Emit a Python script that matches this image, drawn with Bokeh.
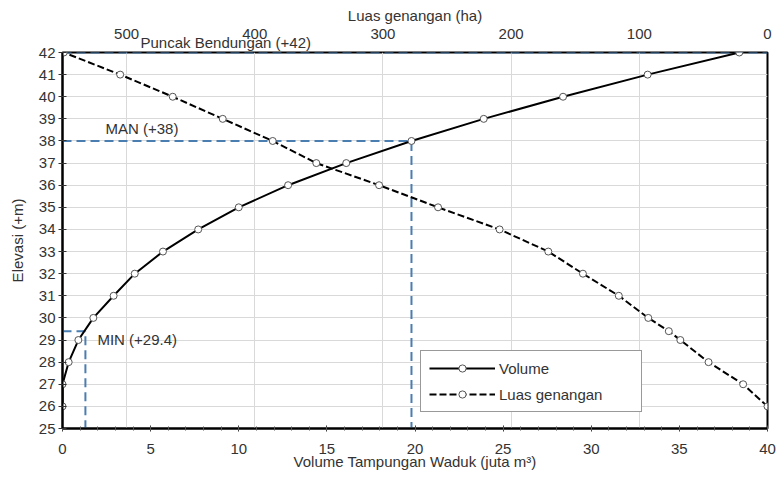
from bokeh.plotting import figure
from bokeh.models import Range1d, LinearAxis, FixedTicker, SingleIntervalTicker, Grid, Label, Title
from bokeh.embed import file_html
from bokeh.resources import INLINE

# ---- data ----
vol_elev = [26, 27, 28, 29, 30, 31, 32, 33, 34, 35, 36, 37, 38, 39, 40, 41, 42]
volume = [0.0, 0.0, 0.35, 0.9, 1.75, 2.9, 4.1, 5.7, 7.7, 10.0, 12.8, 16.1, 19.8, 23.9, 28.4, 33.2, 38.4]

area_elev = [26, 27, 28, 29, 29.4, 30, 31, 32, 33, 34, 35, 36, 37, 38, 39, 40, 41, 42]
area = [0, 19, 46, 68, 77, 93, 116, 144, 171, 209, 257, 303, 352, 386, 425, 464, 505, 549]

area_ticks = [0, 100, 200, 300, 400, 500]
puncak_elev = 42
man_elev, man_vol = 38, 19.8
min_elev, min_vol = 29.4, 1.3
elev_min, elev_max = 25, 42
vol_max = 40
area_max = 550

FONT = "Liberation Sans"
TXT = "#333333"
BLUE = "#4a7db0"

p = figure(width=783, height=477, x_range=Range1d(0, vol_max), y_range=Range1d(elev_min, elev_max),
           output_backend="svg", toolbar_location=None,
           min_border_left=62, min_border_right=16, min_border_top=52, min_border_bottom=49)
p.extra_x_ranges = {"area": Range1d(area_max, 0)}

bx = p.below[0]
ly = p.left[0]

# "Puncak Bendungan" text sits just above the top border (innermost item of the top panel)
puncak = Title(text="Puncak Bendungan (+42)", align="left", vertical_align="bottom", offset=78,
               standoff=4, text_font=FONT, text_font_size="15px", text_font_style="normal",
               text_color=TXT)
p.add_layout(puncak, "above")

top = LinearAxis(x_range_name="area", ticker=FixedTicker(ticks=area_ticks), axis_label="Luas genangan (ha)")
p.add_layout(top, "above")

bx.axis_label = "Volume Tampungan Waduk (juta m³)"
ly.axis_label = "Elevasi (+m)"
bx.ticker = SingleIntervalTicker(interval=5, num_minor_ticks=5)
ly.ticker = SingleIntervalTicker(interval=1, num_minor_ticks=0)

for ax in [bx, ly, top]:
    ax.axis_line_color = "black"
    ax.axis_line_width = 2
    ax.major_label_text_font = FONT
    ax.major_label_text_font_size = "15px"
    ax.major_label_text_color = TXT
    ax.axis_label_text_font = FONT
    ax.axis_label_text_font_size = "15px"
    ax.axis_label_text_font_style = "normal"
    ax.axis_label_text_color = TXT
    ax.major_tick_line_color = "#333333"
    ax.minor_tick_line_color = "#555555"

# bottom axis
bx.major_tick_in = 3
bx.major_tick_out = 3
bx.minor_tick_in = 2
bx.minor_tick_out = 2
bx.major_label_standoff = 12
bx.axis_label_standoff = -4

# left axis
ly.major_tick_in = 4
ly.major_tick_out = 4
ly.minor_tick_line_color = None
ly.major_label_standoff = 3
ly.axis_label_standoff = 10

# top axis (the frame outline draws the top border)
top.axis_line_color = None
top.major_tick_line_color = None
top.minor_tick_line_color = None
top.major_tick_out = 0
top.major_label_standoff = -9
top.axis_label_standoff = 2

# grids
p.xgrid.visible = False
p.ygrid.ticker = SingleIntervalTicker(interval=1)
p.ygrid.grid_line_color = "#d9d9d9"
vgrid = Grid(dimension=0, ticker=FixedTicker(ticks=area_ticks), x_range_name="area",
             grid_line_color="#d9d9d9")
p.add_layout(vgrid)

p.outline_line_color = "black"
p.outline_line_width = 2
p.outline_line_alpha = 1

# reference lines
p.line([0, vol_max], [puncak_elev, puncak_elev], line_color=BLUE, line_width=2, line_dash="9 5")
p.line([0, man_vol, man_vol], [man_elev, man_elev, elev_min], line_color=BLUE, line_width=2, line_dash="9 5")
p.line([0, min_vol, min_vol], [min_elev, min_elev, elev_min], line_color=BLUE, line_width=2, line_dash="9 5")

# series
p.line(volume, vol_elev, line_color="black", line_width=2, legend_label="Volume")
p.scatter(volume, vol_elev, marker="circle", size=7, fill_color="white", line_color="#555555",
          line_width=1, legend_label="Volume")
p.line(area, area_elev, x_range_name="area", line_color="black", line_width=2, line_dash="7 3",
       legend_label="Luas genangan")
p.scatter(area, area_elev, x_range_name="area", marker="circle", size=7, fill_color="white",
          line_color="#555555", line_width=1, legend_label="Luas genangan")

# labels
for txt, x, y, xo, yo, base in [("MAN (+38)", 0, man_elev, 43, 4, "bottom"),
                                ("MIN (+29.4)", min_vol, min_elev, 12, 0, "top")]:
    p.add_layout(Label(x=x, y=y, x_offset=xo, y_offset=yo, text=txt, text_font=FONT,
                       text_font_size="15px", text_color=TXT, text_baseline=base))

lg = p.legend[0]
lg.location = (358, 16)
lg.margin = 0
lg.padding = 8
lg.spacing = 8
lg.glyph_width = 66
lg.glyph_height = 18
lg.label_height = 18
lg.label_width = 134
lg.label_standoff = 4
lg.label_text_font = FONT
lg.label_text_font_size = "15px"
lg.label_text_color = TXT
lg.border_line_color = "#333333"
lg.border_line_width = 1.5
lg.background_fill_color = "white"
lg.background_fill_alpha = 1

open("out.html", "w").write(file_html(p, INLINE))
